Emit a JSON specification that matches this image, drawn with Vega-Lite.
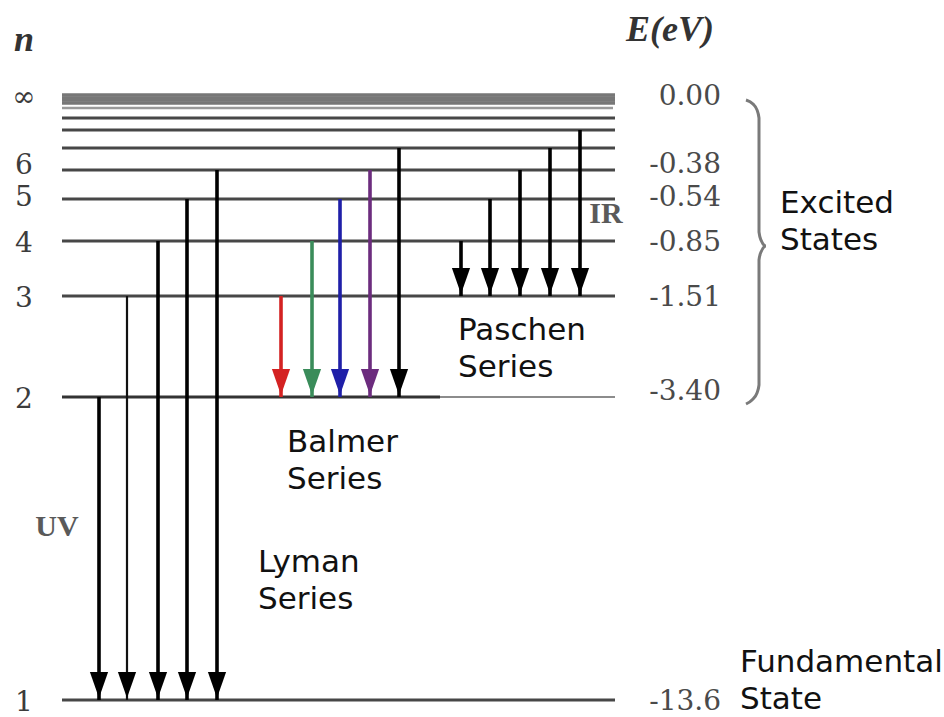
{
  "$schema": "https://vega.github.io/schema/vega-lite/v6.json",
  "width": 944,
  "height": 717,
  "padding": 0,
  "autosize": {"type": "none"},
  "background": "white",
  "config": {"view": {"stroke": null}},
  "datasets": {
    "levels": [
      {"n": 1, "E": -13.6, "lbl": "1", "elbl": "-13.6"},
      {"n": 2, "E": -3.4, "lbl": "2", "elbl": "-3.40"},
      {"n": 3, "E": -1.51, "lbl": "3", "elbl": "-1.51"},
      {"n": 4, "E": -0.85, "lbl": "4", "elbl": "-0.85"},
      {"n": 5, "E": -0.54, "lbl": "5", "elbl": "-0.54"},
      {"n": 6, "E": -0.38, "lbl": "6", "elbl": "-0.38"},
      {"n": 7, "E": -0.278, "lbl": "", "elbl": ""},
      {"n": 8, "E": -0.213, "lbl": "", "elbl": ""},
      {"n": 9, "E": -0.168, "lbl": "", "elbl": ""},
      {"n": 10, "E": -0.136, "lbl": "", "elbl": ""},
      {"n": 11, "E": -0.112, "lbl": "", "elbl": ""},
      {"n": 12, "E": -0.094, "lbl": "", "elbl": ""},
      {"n": 13, "E": -0.08, "lbl": "", "elbl": ""},
      {"n": 99, "E": 0, "lbl": "∞", "elbl": "0.00"}
    ],
    "arrows": [
      {"series": "Lyman", "line": "Ly-α", "nu": 2, "nl": 1, "Eu": -3.4, "El": -13.6, "x": 99},
      {"series": "Lyman", "line": "Ly-β", "nu": 3, "nl": 1, "Eu": -1.51, "El": -13.6, "x": 127},
      {"series": "Lyman", "line": "Ly-γ", "nu": 4, "nl": 1, "Eu": -0.85, "El": -13.6, "x": 158},
      {"series": "Lyman", "line": "Ly-δ", "nu": 5, "nl": 1, "Eu": -0.54, "El": -13.6, "x": 187},
      {"series": "Lyman", "line": "Ly-ε", "nu": 6, "nl": 1, "Eu": -0.38, "El": -13.6, "x": 217},
      {"series": "Balmer", "line": "H-α", "nu": 3, "nl": 2, "Eu": -1.51, "El": -3.4, "x": 281},
      {"series": "Balmer", "line": "H-β", "nu": 4, "nl": 2, "Eu": -0.85, "El": -3.4, "x": 312},
      {"series": "Balmer", "line": "H-γ", "nu": 5, "nl": 2, "Eu": -0.54, "El": -3.4, "x": 340},
      {"series": "Balmer", "line": "H-δ", "nu": 6, "nl": 2, "Eu": -0.38, "El": -3.4, "x": 370},
      {"series": "Balmer", "line": "H-ε", "nu": 7, "nl": 2, "Eu": -0.278, "El": -3.4, "x": 399},
      {"series": "Paschen", "line": "Pa-α", "nu": 4, "nl": 3, "Eu": -0.85, "El": -1.51, "x": 461},
      {"series": "Paschen", "line": "Pa-β", "nu": 5, "nl": 3, "Eu": -0.54, "El": -1.51, "x": 490},
      {"series": "Paschen", "line": "Pa-γ", "nu": 6, "nl": 3, "Eu": -0.38, "El": -1.51, "x": 520},
      {"series": "Paschen", "line": "Pa-δ", "nu": 7, "nl": 3, "Eu": -0.278, "El": -1.51, "x": 550},
      {"series": "Paschen", "line": "Pa-ε", "nu": 8, "nl": 3, "Eu": -0.213, "El": -1.51, "x": 580}
    ],
    "brace": [
      {"i": 0, "x": 746, "E": -0.094},
      {"i": 1, "x": 753, "E": -0.117},
      {"i": 2, "x": 757, "E": -0.142},
      {"i": 3, "x": 759, "E": -0.168},
      {"i": 4, "x": 759, "E": -0.784},
      {"i": 5, "x": 761, "E": -0.843},
      {"i": 6, "x": 766, "E": -0.91},
      {"i": 7, "x": 761, "E": -0.982},
      {"i": 8, "x": 759, "E": -1.078},
      {"i": 9, "x": 759, "E": -3.175},
      {"i": 10, "x": 757, "E": -3.325},
      {"i": 11, "x": 752, "E": -3.501},
      {"i": 12, "x": 746, "E": -3.636}
    ],
    "captions": [
      {"text": "Excited\nStates", "x": 780, "E": -0.643},
      {"text": "Fundamental\nState", "x": 740, "E": -12.66},
      {"text": "Paschen\nSeries", "x": 458, "E": -2.333},
      {"text": "Balmer\nSeries", "x": 287, "E": -5.251},
      {"text": "Lyman\nSeries", "x": 258, "E": -9.291}
    ],
    "regions": [
      {"text": "UV", "x": 57, "E": -7.776},
      {"text": "IR", "x": 606, "E": -0.651}
    ],
    "headers": [
      {"text": "n", "x": 24, "E": 0.846},
      {"text": "E(eV)", "x": 670, "E": 1.0}
    ]
  },
  "layer": [
    {
      "data": {"name": "levels"},
      "transform": [{"filter": "datum.n <= 9 && datum.n != 2"}],
      "mark": {"type": "rule", "stroke": "#474747", "strokeWidth": 3},
      "encoding": {
        "y": {"field": "E", "type": "quantitative", "axis": null, "scale": {"type": "linear", "domain": [-13.6, -3.4, -1.51, -0.85, -0.54, -0.38, -0.278, -0.213, -0.168, -0.136, -0.112, -0.094, -0.08, 0, 1], "range": [700, 397, 296, 241, 199, 170, 148, 130, 118, 108, 103, 100, 98, 95, 30], "nice": false, "zero": false}},
        "x": {"datum": 62, "type": "quantitative", "axis": null, "scale": {"domain": [0, 944], "range": [0, 944], "nice": false, "zero": false}},
        "x2": {"datum": 615}
      }
    },
    {
      "data": {"name": "levels"},
      "transform": [{"filter": "datum.n == 2"}],
      "mark": {"type": "rule", "stroke": "#333333", "strokeWidth": 3},
      "encoding": {
        "y": {"field": "E", "type": "quantitative"},
        "x": {"datum": 62, "type": "quantitative"},
        "x2": {"datum": 440}
      }
    },
    {
      "data": {"name": "levels"},
      "transform": [{"filter": "datum.n == 2"}],
      "mark": {"type": "rule", "stroke": "#8c8c8c", "strokeWidth": 2},
      "encoding": {
        "y": {"field": "E", "type": "quantitative"},
        "x": {"datum": 440, "type": "quantitative"},
        "x2": {"datum": 615}
      }
    },
    {
      "data": {"name": "levels"},
      "transform": [{"filter": "datum.n == 10"}],
      "mark": {"type": "rule", "stroke": "#9a9a9a", "strokeWidth": 2.5},
      "encoding": {
        "y": {"field": "E", "type": "quantitative"},
        "x": {"datum": 62, "type": "quantitative"},
        "x2": {"datum": 613}
      }
    },
    {
      "data": {"name": "levels"},
      "transform": [{"filter": "datum.n >= 11"}],
      "mark": {"type": "rule", "stroke": "#777777", "strokeWidth": 3.5},
      "encoding": {
        "y": {"field": "E", "type": "quantitative"},
        "x": {"datum": 62, "type": "quantitative"},
        "x2": {"datum": 615}
      }
    },
    {
      "data": {"name": "arrows"},
      "transform": [{"filter": "datum.line != 'Ly-β'"}],
      "mark": {"type": "rule", "strokeWidth": 3.6},
      "encoding": {
        "x": {"field": "x", "type": "quantitative"},
        "y": {"field": "Eu", "type": "quantitative"},
        "y2": {"field": "El"},
        "color": {
          "condition": {"test": "datum.series == 'Balmer' && datum.nu <= 6", "field": "line", "type": "nominal", "legend": null,
            "scale": {"domain": ["H-α", "H-β", "H-γ", "H-δ"], "range": ["#d42222", "#3a8c5a", "#1f1fa8", "#6c2c7e"]}},
          "value": "#000000"
        }
      }
    },
    {
      "data": {"name": "arrows"},
      "transform": [{"filter": "datum.line == 'Ly-β'"}],
      "mark": {"type": "rule", "strokeWidth": 2.2, "stroke": "#111111"},
      "encoding": {
        "x": {"field": "x", "type": "quantitative"},
        "y": {"field": "Eu", "type": "quantitative"},
        "y2": {"field": "El"}
      }
    },
    {
      "data": {"name": "arrows"},
      "mark": {"type": "point", "shape": "M-0.7,-1L0.7,-1L0,1Z", "size": 676, "filled": true, "opacity": 1, "strokeWidth": 0, "yOffset": -15},
      "encoding": {
        "x": {"field": "x", "type": "quantitative"},
        "y": {"field": "El", "type": "quantitative"},
        "color": {
          "condition": {"test": "datum.series == 'Balmer' && datum.nu <= 6", "field": "line", "type": "nominal", "legend": null},
          "value": "#000000"
        }
      }
    },
    {
      "data": {"name": "levels"},
      "transform": [{"filter": "datum.lbl != '' && datum.n != 5 && datum.n != 6"}],
      "mark": {"type": "text", "font": "DejaVu Serif", "fontSize": 28, "fill": "#3c3c3c", "align": "center", "baseline": "middle", "dy": 3},
      "encoding": {
        "x": {"datum": 24, "type": "quantitative"},
        "y": {"field": "E", "type": "quantitative"},
        "text": {"field": "lbl"}
      }
    },
    {
      "data": {"name": "levels"},
      "transform": [{"filter": "datum.n == 6"}],
      "mark": {"type": "text", "font": "DejaVu Serif", "fontSize": 28, "fill": "#3c3c3c", "align": "center", "baseline": "middle", "dy": -4},
      "encoding": {
        "x": {"datum": 24, "type": "quantitative"},
        "y": {"field": "E", "type": "quantitative"},
        "text": {"field": "lbl"}
      }
    },
    {
      "data": {"name": "levels"},
      "transform": [{"filter": "datum.n == 5"}],
      "mark": {"type": "text", "font": "DejaVu Serif", "fontSize": 28, "fill": "#3c3c3c", "align": "center", "baseline": "middle", "dy": -1},
      "encoding": {
        "x": {"datum": 24, "type": "quantitative"},
        "y": {"field": "E", "type": "quantitative"},
        "text": {"field": "lbl"}
      }
    },
    {
      "data": {"name": "levels"},
      "transform": [{"filter": "datum.elbl != '' && datum.n != 5 && datum.n != 6 && datum.n != 2"}],
      "mark": {"type": "text", "font": "DejaVu Serif", "fontSize": 28, "fill": "#4a4a4a", "align": "right", "baseline": "middle", "dy": 2},
      "encoding": {
        "x": {"datum": 721, "type": "quantitative"},
        "y": {"field": "E", "type": "quantitative"},
        "text": {"field": "elbl"}
      }
    },
    {
      "data": {"name": "levels"},
      "transform": [{"filter": "datum.n == 6"}],
      "mark": {"type": "text", "font": "DejaVu Serif", "fontSize": 28, "fill": "#4a4a4a", "align": "right", "baseline": "middle", "dy": -5},
      "encoding": {
        "x": {"datum": 721, "type": "quantitative"},
        "y": {"field": "E", "type": "quantitative"},
        "text": {"field": "elbl"}
      }
    },
    {
      "data": {"name": "levels"},
      "transform": [{"filter": "datum.n == 5"}],
      "mark": {"type": "text", "font": "DejaVu Serif", "fontSize": 28, "fill": "#4a4a4a", "align": "right", "baseline": "middle", "dy": -1},
      "encoding": {
        "x": {"datum": 721, "type": "quantitative"},
        "y": {"field": "E", "type": "quantitative"},
        "text": {"field": "elbl"}
      }
    },
    {
      "data": {"name": "levels"},
      "transform": [{"filter": "datum.n == 2"}],
      "mark": {"type": "text", "font": "DejaVu Serif", "fontSize": 28, "fill": "#4a4a4a", "align": "right", "baseline": "middle", "dy": -5},
      "encoding": {
        "x": {"datum": 721, "type": "quantitative"},
        "y": {"field": "E", "type": "quantitative"},
        "text": {"field": "elbl"}
      }
    },
    {
      "data": {"name": "brace"},
      "mark": {"type": "line", "stroke": "#7a7a7a", "strokeWidth": 3, "interpolate": "monotone"},
      "encoding": {
        "x": {"field": "x", "type": "quantitative"},
        "y": {"field": "E", "type": "quantitative"},
        "order": {"field": "i", "type": "quantitative"}
      }
    },
    {
      "data": {"name": "captions"},
      "mark": {"type": "text", "font": "DejaVu Sans", "fontSize": 31, "fill": "#111111", "align": "left", "baseline": "alphabetic", "lineBreak": "\n", "lineHeight": 37},
      "encoding": {
        "x": {"field": "x", "type": "quantitative"},
        "y": {"field": "E", "type": "quantitative"},
        "text": {"field": "text"}
      }
    },
    {
      "data": {"name": "regions"},
      "mark": {"type": "text", "font": "Liberation Serif", "fontSize": 30, "fontWeight": "bold", "fill": "#5a5a5a", "align": "center", "baseline": "middle"},
      "encoding": {
        "x": {"field": "x", "type": "quantitative"},
        "y": {"field": "E", "type": "quantitative"},
        "text": {"field": "text"}
      }
    },
    {
      "data": {"name": "headers"},
      "mark": {"type": "text", "font": "Liberation Serif", "fontSize": 36, "fontWeight": "bold", "fontStyle": "italic", "fill": "#333333", "align": "center", "baseline": "middle"},
      "encoding": {
        "x": {"field": "x", "type": "quantitative"},
        "y": {"field": "E", "type": "quantitative"},
        "text": {"field": "text"}
      }
    }
  ]
}
